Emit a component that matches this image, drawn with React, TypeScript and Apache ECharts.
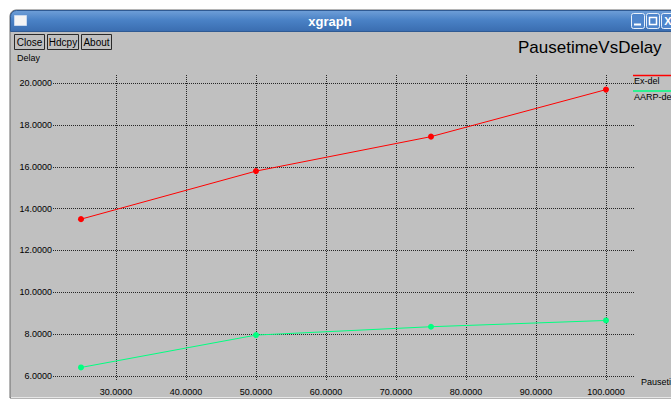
import React, { useEffect, useRef } from "react";
import * as echarts from "echarts";

// Pause time (s) against end-to-end delay for two protocols
const pauseTimes = [25, 50, 75, 100];
const exDelay = [13.5, 15.8, 17.45, 19.7];
const aarpDelay = [6.4, 7.95, 8.35, 8.65];
const xTicks = [30, 40, 50, 60, 70, 80, 90, 100];
const yTicks = [6, 8, 10, 12, 14, 16, 18, 20];
const seriesNames = ["Ex-del", "AARP-del"];
const seriesColors = ["#ff0000", "#00ff80"];

const FONT = "Liberation Sans";

export default function App() {
  const ref = useRef<HTMLDivElement>(null);

  useEffect(() => {
    if (!ref.current) return;
    const chart = echarts.init(ref.current, null, { renderer: "svg" });

    const gridStyle = { color: "#262626", width: 1, type: [1, 1] as number[] };

    const chrome: any[] = [
      // window frame and body
      {
        type: "rect",
        z: -10,
        shape: { x: 10, y: 10, width: 700, height: 388, r: [6, 6, 0, 0] },
        style: { fill: "#c0c0c0", stroke: "#6a6a6a", lineWidth: 1 },
      },
      {
        type: "line",
        z: -9,
        shape: { x1: 11, y1: 397.5, x2: 671, y2: 397.5 },
        style: { stroke: "#e6e6e6", lineWidth: 1 },
      },
      // title bar
      {
        type: "rect",
        z: -8,
        shape: { x: 10.5, y: 10.5, width: 700, height: 21, r: [6, 6, 0, 0] },
        style: {
          fill: new echarts.graphic.LinearGradient(0, 0, 0, 1, [
            { offset: 0, color: "#6f9fd8" },
            { offset: 0.45, color: "#4a82c6" },
            { offset: 1, color: "#3a6db0" },
          ]),
          stroke: "#2f5a93",
          lineWidth: 1,
        },
      },
      {
        type: "rect",
        shape: { x: 14.5, y: 15.5, width: 12, height: 10 },
        style: { fill: "#f4f4f4", stroke: "#c8d8ee", lineWidth: 1 },
      },
      {
        type: "text",
        style: {
          x: 330,
          y: 21,
          text: "xgraph",
          fill: "#ffffff",
          font: `bold 13px ${FONT}`,
          align: "center",
          verticalAlign: "middle",
        },
      },
      // window control buttons
      ...[631, 646, 661].map((bx, i) => ({
        type: "group",
        children: [
          {
            type: "rect",
            shape: { x: bx + 0.5, y: 13.5, width: 13, height: 15, r: 2 },
            style: { fill: "#4f86cc", stroke: "#e8f0fa", lineWidth: 1 },
          },
          i === 0
            ? {
                type: "line",
                shape: { x1: bx + 3, y1: 24.5, x2: bx + 10, y2: 24.5 },
                style: { stroke: "#ffffff", lineWidth: 2 },
              }
            : i === 1
            ? {
                type: "rect",
                shape: { x: bx + 3.5, y: 17.5, width: 7, height: 7 },
                style: { fill: "none", stroke: "#ffffff", lineWidth: 1.5 },
              }
            : {
                type: "text",
                style: {
                  x: bx + 7,
                  y: 21,
                  text: "X",
                  fill: "#ffffff",
                  font: `bold 11px ${FONT}`,
                  align: "center",
                  verticalAlign: "middle",
                },
              },
        ],
      })),
      // xgraph buttons
      ...[
        { label: "Close", x: 14, w: 30 },
        { label: "Hdcpy", x: 47, w: 31 },
        { label: "About", x: 81, w: 30 },
      ].map((b) => ({
        type: "group",
        children: [
          {
            type: "rect",
            shape: { x: b.x + 0.5, y: 34.5, width: b.w, height: 15 },
            style: { fill: "#c0c0c0", stroke: "#2a2a2a", lineWidth: 1 },
          },
          {
            type: "text",
            style: {
              x: b.x + 0.5 + b.w / 2,
              y: 42.5,
              text: b.label,
              fill: "#000",
              font: `10px ${FONT}`,
              align: "center",
              verticalAlign: "middle",
            },
          },
        ],
      })),
      {
        type: "text",
        style: {
          x: 17,
          y: 58,
          text: "Delay",
          fill: "#000",
          font: `9px ${FONT}`,
          verticalAlign: "middle",
        },
      },
      {
        type: "text",
        style: {
          x: 518,
          y: 47,
          text: "PausetimeVsDelay",
          fill: "#000",
          font: `17px ${FONT}`,
          verticalAlign: "middle",
        },
      },
      {
        type: "text",
        style: {
          x: 641,
          y: 382,
          text: "Pausetime",
          fill: "#000",
          font: `9px ${FONT}`,
          verticalAlign: "middle",
        },
      },
      // legend: colour bar above each name
      ...seriesNames.flatMap((name, i) => [
        {
          type: "line",
          shape: { x1: 633, y1: 75.5 + i * 15.5, x2: 690, y2: 75.5 + i * 15.5 },
          style: { stroke: seriesColors[i], lineWidth: 1.5 },
        },
        {
          type: "text",
          style: {
            x: 634,
            y: 81 + i * 15.5,
            text: name,
            fill: "#000",
            font: `9px ${FONT}`,
            verticalAlign: "middle",
          },
        },
      ]),
    ];

    chart.setOption({
      animation: false,
      backgroundColor: "#ffffff",
      textStyle: { fontFamily: FONT },
      grid: { left: 53, top: 75, width: 581, height: 305, containLabel: false },
      xAxis: {
        type: "value",
        min: 21,
        max: 104,
        axisLine: { show: false },
        axisTick: { show: false, customValues: xTicks },
        axisLabel: {
          customValues: xTicks,
          formatter: (v: number) => v.toFixed(4),
          color: "#000",
          fontSize: 9,
          margin: 7,
        },
        splitLine: { show: true, lineStyle: gridStyle },
      },
      yAxis: {
        type: "value",
        min: 5.8,
        max: 20.4,
        axisLine: { show: false },
        axisTick: { show: false, customValues: yTicks },
        axisLabel: {
          customValues: yTicks,
          formatter: (v: number) => v.toFixed(4),
          color: "#000",
          fontSize: 9,
          margin: 1,
        },
        splitLine: { show: true, lineStyle: gridStyle },
      },
      series: [
        {
          name: seriesNames[0],
          type: "line",
          data: pauseTimes.map((x, i) => [x, exDelay[i]]),
          symbol: "circle",
          symbolSize: 6,
          lineStyle: { color: seriesColors[0], width: 1 },
          itemStyle: { color: seriesColors[0] },
          z: 5,
        },
        {
          name: seriesNames[1],
          type: "line",
          data: pauseTimes.map((x, i) => [x, aarpDelay[i]]),
          symbol: "circle",
          symbolSize: 6,
          lineStyle: { color: seriesColors[1], width: 1 },
          itemStyle: { color: seriesColors[1] },
          z: 5,
        },
      ],
      graphic: chrome,
    });

    return () => chart.dispose();
  }, []);

  return (
    <div
      ref={ref}
      style={{ position: "fixed", left: 0, top: 0, width: 671, height: 399 }}
    />
  );
}
